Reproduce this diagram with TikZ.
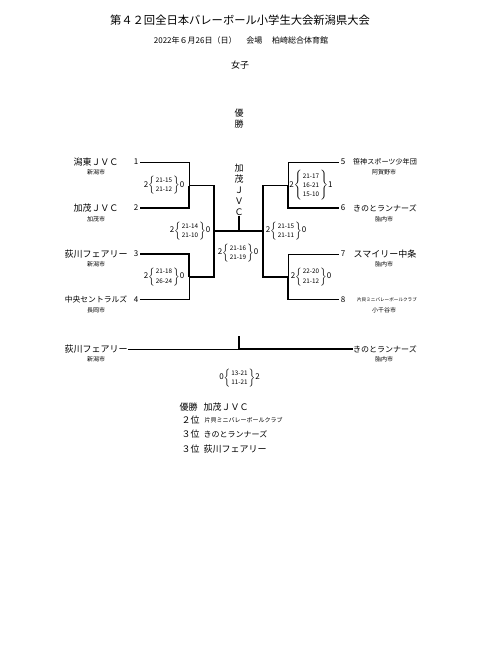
\documentclass[tikz,border=0pt]{standalone}
\usepackage{fontspec}
\setmainfont{Noto Sans CJK JP}
\renewcommand{\arraystretch}{1.25}
\newcommand{\matchsets}[3]{{\fontsize{8}{9}\selectfont #1}$\left\{\begin{tabular}{@{\,}c@{\,}}#2\end{tabular}\right\}${\fontsize{8}{9}\selectfont #3}}
\tikzset{
  heading/.style={font=\fontsize{11.3}{13}\selectfont, inner sep=0pt},
  subhead/.style={font=\fontsize{8}{9}\selectfont, inner sep=0pt},
  team/.style={font=\fontsize{9}{11}\selectfont, inner sep=0.5pt},
  city/.style={font=\fontsize{6}{7}\selectfont, inner sep=0pt},
  num/.style={font=\fontsize{8}{9}\selectfont, inner sep=2pt},
  scorebox/.style={font=\fontsize{6.3}{7.4}\selectfont, inner sep=0pt},
  win/.style={line width=1.6pt},
  lose/.style={line width=0.7pt},
}

\begin{document}
\begin{tikzpicture}[x=1pt, y=-1pt]
  \useasboundingbox (0,0) rectangle (480,665);
  % heading
  \node[heading] (title) at (240,20) {第４２回全日本バレーボール小学生大会新潟県大会};
  \node[subhead] (date) at (241,40) {2022年６月26日（日）　 会場　 柏崎総合体育館};
  \node[team] (div) at (240,65) {女子};
  \node[team, align=center] (yusho) at (239,118.5) {優\\勝};
  % left teams
  \node[team] (t1) at (96,162) {潟東ＪＶＣ};
  \node[city] (c1) at (96,172) {新潟市};
  \node[num] (n1) at (136,162) {1};
  \node[team] (t2) at (96,208) {加茂ＪＶＣ};
  \node[city] (c2) at (96,219) {加茂市};
  \node[num] (n2) at (136,208) {2};
  \node[team] (t3) at (96,254) {荻川フェアリー};
  \node[city] (c3) at (96,264) {新潟市};
  \node[num] (n3) at (136,254) {3};
  \node[team, font=\fontsize{7.8}{9}\selectfont] (t4) at (96,299.3) {中央セントラルズ};
  \node[city] (c4) at (96,310) {長岡市};
  \node[num] (n4) at (136,299.3) {4};
  % right teams
  \node[num] (n5) at (343,162) {5};
  \node[team, font=\fontsize{7.1}{8}\selectfont] (t5) at (385,162) {笹神スポーツ少年団};
  \node[city] (c5) at (384,172) {阿賀野市};
  \node[num] (n6) at (343,208) {6};
  \node[team, font=\fontsize{8}{9}\selectfont] (t6) at (385,208) {きのとランナーズ};
  \node[city] (c6) at (384,219) {胎内市};
  \node[num] (n7) at (343,254) {7};
  \node[team] (t7) at (385,254) {スマイリー中条};
  \node[city] (c7) at (384,264) {胎内市};
  \node[num] (n8) at (343,299.3) {8};
  \node[team, font=\fontsize{4.6}{5}\selectfont] (t8) at (387,299.3) {片貝ミニバレーボールクラブ};
  \node[city] (c8) at (384,310) {小千谷市};
  % bracket points
  \coordinate (a1) at (189,162);
  \coordinate (a2) at (189,208);
  \coordinate (w12) at (189,185.5);
  \coordinate (a3) at (189,254);
  \coordinate (a4) at (189,299.3);
  \coordinate (w34) at (189,276.7);
  \coordinate (b5) at (288,162);
  \coordinate (b6) at (288,208);
  \coordinate (w56) at (288,185.5);
  \coordinate (b7) at (288,254);
  \coordinate (b8) at (288,299.3);
  \coordinate (w78) at (288,276.7);
  \coordinate (s1) at (214,185.5);
  \coordinate (s2) at (214,276.7);
  \coordinate (r1) at (263,185.5);
  \coordinate (r2) at (263,276.7);
  \coordinate (f1) at (214,231);
  \coordinate (f2) at (263,231);
  \coordinate (fm) at (239,231);
  % first round
  \draw[lose] (n1) -- (a1) -- (w12);
  \draw[win] (n2) -- (a2) -- (w12);
  \draw[win] (n3) -- (a3) -- (w34);
  \draw[lose] (n4) -- (a4) -- (w34);
  \draw[lose] (n5) -- (b5) -- (w56);
  \draw[win] (n6) -- (b6) -- (w56);
  \draw[lose] (n7) -- (b7) -- (w78);
  \draw[win] (n8) -- (b8) -- (w78);
  % semifinals and final
  \draw[win] (w12) -- (s1) -- (s2) -- (w34);
  \draw[win] (w56) -- (r1) -- (r2) -- (w78);
  \draw[win] (f1) -- (f2);
  \node[team, align=center] (champ) at (239,190) {加\\茂\\Ｊ\\Ｖ\\Ｃ};
  \draw[win] (fm) -- (champ);
  % scores
  \node[scorebox] (m12) at (164,185.5) {\matchsets{2}{21-15\\21-12}{0}};
  \node[scorebox] (m34) at (164,276.7) {\matchsets{2}{21-18\\26-24}{0}};
  \node[scorebox] (m56) at (311,185.5) {\matchsets{2}{21-17\\16-21\\15-10}{1}};
  \node[scorebox] (m78) at (311,276.7) {\matchsets{2}{22-20\\21-12}{0}};
  \node[scorebox] (sf1) at (190,231) {\matchsets{2}{21-14\\21-10}{0}};
  \node[scorebox] (sf2) at (286,231) {\matchsets{2}{21-15\\21-11}{0}};
  \node[scorebox] (fin) at (238,253) {\matchsets{2}{21-16\\21-19}{0}};
  % play-off
  \node[team] (p3) at (96,349) {荻川フェアリー};
  \node[city] (pc3) at (96,359) {新潟市};
  \node[team, font=\fontsize{8}{9}\selectfont] (p6) at (385,349) {きのとランナーズ};
  \node[city] (pc6) at (384,359) {胎内市};
  \coordinate (pm) at (239,349);
  \coordinate (ptop) at (239,336);
  \draw[lose] (p3) -- (pm);
  \draw[win] (pm) -- (p6);
  \draw[win] (ptop) -- (pm);
  \node[scorebox] (pl) at (239.5,378) {\matchsets{0}{13-21\\11-21}{2}};
  % standings
  \node[team, anchor=west] (r1l) at (179,407) {優勝};
  \node[team, anchor=west] (r1t) at (203,407) {加茂ＪＶＣ};
  \node[team, anchor=west] (r2l) at (181,420) {２位};
  \node[team, anchor=west, font=\fontsize{6}{7}\selectfont] (r2t) at (204,420) {片貝ミニバレーボールクラブ};
  \node[team, anchor=west] (r3l) at (181,434) {３位};
  \node[team, anchor=west, font=\fontsize{8}{9}\selectfont] (r3t) at (203,434) {きのとランナーズ};
  \node[team, anchor=west] (r4l) at (181,449) {３位};
  \node[team, anchor=west] (r4t) at (203,449) {荻川フェアリー};
\end{tikzpicture}
\end{document}
